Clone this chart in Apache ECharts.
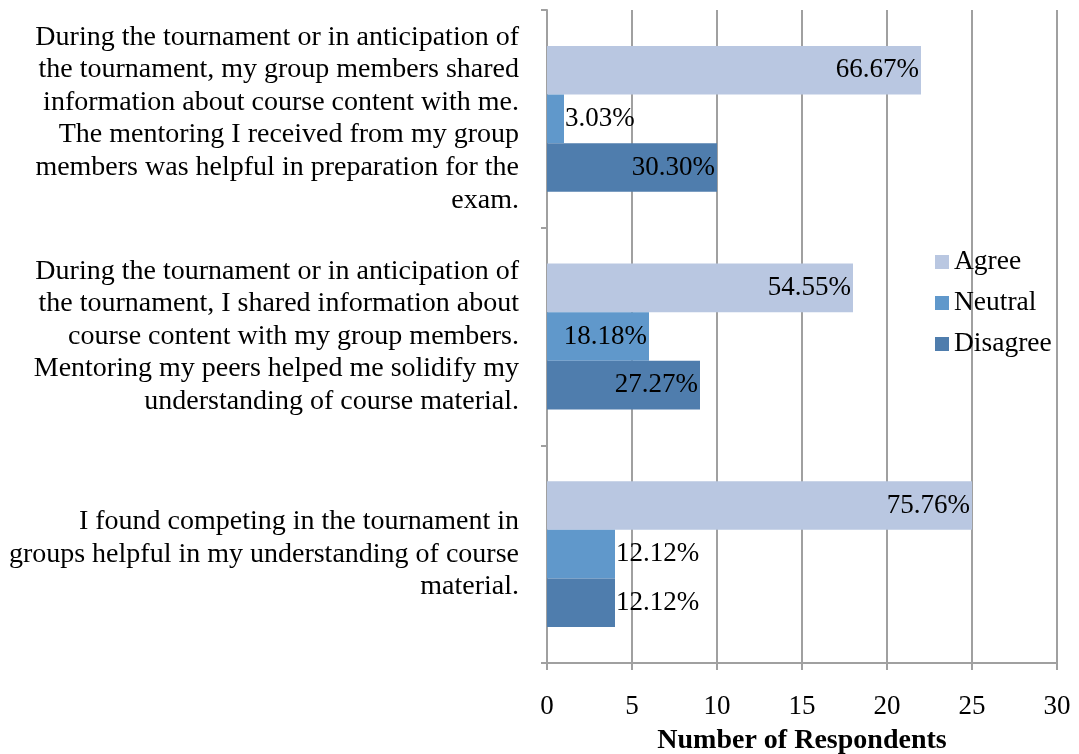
<!DOCTYPE html>
<html>
<head>
<meta charset="utf-8">
<script src="https://cdn.jsdelivr.net/npm/echarts@6/dist/echarts.min.js"></script>
<style>
  html, body { margin: 0; padding: 0; background: #fff; }
  #chart { width: 1079px; height: 754px; }
</style>
</head>
<body>
<div id="chart"></div>
<script>
  // statements, top to bottom as shown
  var categories = [
    'During the tournament or in anticipation of\nthe tournament, my group members shared\ninformation about course content with me.\nThe mentoring I received from my group\nmembers was helpful in preparation for the\nexam.',
    'During the tournament or in anticipation of\nthe tournament, I shared information about\ncourse content with my group members.\nMentoring my peers helped me solidify my\nunderstanding of course material.',
    'I found competing in the tournament in\ngroups helpful in my understanding of course\nmaterial.'
  ];
  var seriesNames = ['Agree', 'Neutral', 'Disagree'];
  var agree = [22, 18, 25];
  var neutral = [1, 6, 4];
  var disagree = [10, 9, 4];
  var agreePct = ['66.67%', '54.55%', '75.76%'];
  var neutralPct = ['3.03%', '18.18%', '12.12%'];
  var disagreePct = ['30.30%', '27.27%', '12.12%'];
  var xTicks = [0, 5, 10, 15, 20, 25, 30];

  var colors = ['#B9C7E1', '#6098CB', '#4F7DAD'];
  var font = '"Liberation Serif", "Times New Roman", serif';

  // bars too short for an inside label get it outside the end
  function buildData(values, pcts) {
    return values.map(function (v, i) {
      return {
        value: v,
        label: { position: v < 5 ? 'right' : 'insideRight', distance: v < 5 ? 1 : 2 },
        pct: pcts[i]
      };
    });
  }

  var chart = echarts.init(document.getElementById('chart'));

  var lists = [agree, neutral, disagree];
  var pctLists = [agreePct, neutralPct, disagreePct];
  var series = seriesNames.map(function (name, k) {
    return {
      name: name,
      type: 'bar',
      data: buildData(lists[k], pctLists[k]),
      barGap: 0,
      barCategoryGap: '33%',
      itemStyle: { color: colors[k] },
      label: {
        show: true,
        color: '#000',
        fontFamily: font,
        fontSize: 27,
        formatter: function (p) { return p.data.pct; }
      }
    };
  });

  var option = {
    animation: false,
    textStyle: { fontFamily: font },
    grid: { left: 547, right: 22, top: 10, bottom: 91, containLabel: false, outerBoundsMode: 'none' },
    legend: {
      data: seriesNames,
      orient: 'vertical',
      left: 930,
      top: 243,
      icon: 'rect',
      itemWidth: 14,
      itemHeight: 14,
      itemGap: 13,
      textStyle: { fontFamily: font, fontSize: 27.5, color: '#000' }
    },
    xAxis: {
      type: 'value',
      min: xTicks[0],
      max: xTicks[xTicks.length - 1],
      interval: 5,
      name: 'Number of Respondents',
      nameLocation: 'middle',
      nameGap: 64,
      nameTextStyle: { fontFamily: font, fontSize: 28, fontWeight: 'bold', color: '#000' },
      axisLine: { show: true, lineStyle: { color: '#A0A0A0', width: 2 } },
      axisTick: { show: true, length: 7, lineStyle: { color: '#A0A0A0', width: 2 } },
      axisLabel: { color: '#000', fontFamily: font, fontSize: 27, margin: 30 },
      splitLine: { show: true, lineStyle: { color: '#A0A0A0', width: 2 } }
    },
    yAxis: {
      type: 'category',
      inverse: true,
      data: categories,
      axisLine: { show: true, lineStyle: { color: '#A0A0A0', width: 2 } },
      axisTick: { show: true, length: 6, lineStyle: { color: '#A0A0A0', width: 2 } },
      axisLabel: {
        color: '#000',
        fontFamily: font,
        fontSize: 28,
        lineHeight: 32.6,
        margin: 28,
        align: 'right'
      }
    },
    series: series
  };

  chart.setOption(option);
</script>
</body>
</html>
